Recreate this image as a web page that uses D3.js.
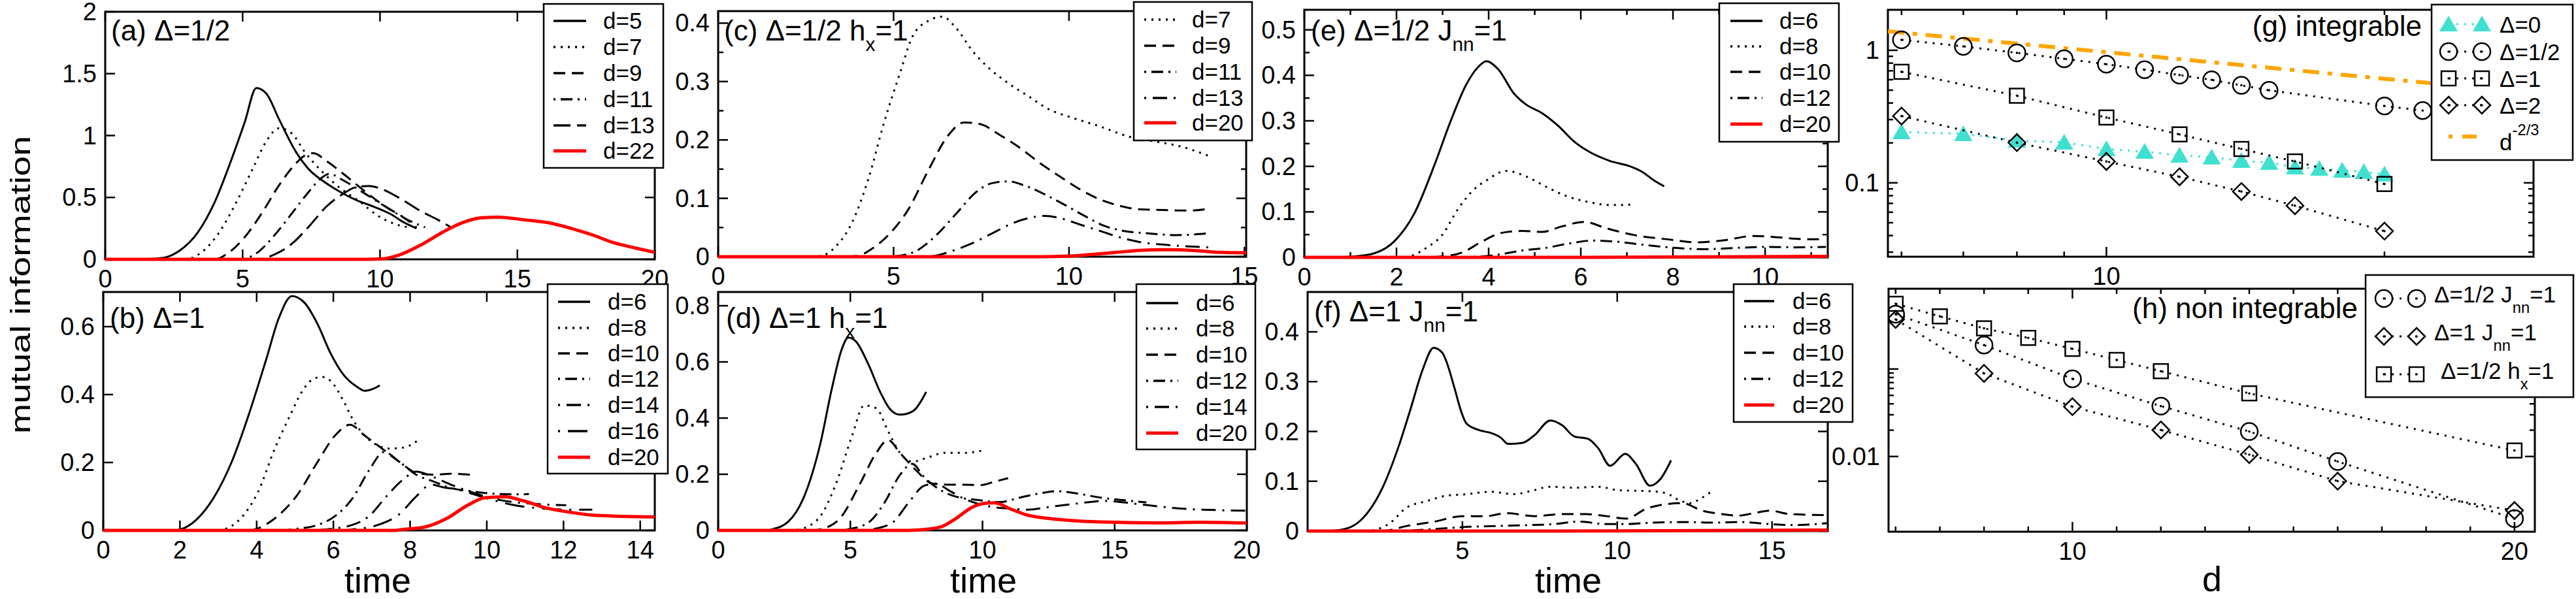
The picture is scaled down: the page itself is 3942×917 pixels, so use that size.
<!DOCTYPE html>
<html>
<head>
<meta charset="utf-8">
<script src="https://cdn.jsdelivr.net/npm/d3@7"></script>
<style>
  body { margin: 0; background: #fff; }
  svg { display: block; font-family: "Liberation Sans", Arial, Helvetica, sans-serif; }
</style>
</head>
<body>
<svg id="fig" width="3942" height="917"></svg>
<script>
// ---------- data: panel (a) Delta=1/2 ----------
const aLabels = ["d=5", "d=7", "d=9", "d=11", "d=13", "d=22"];
const aD5 = [[0,0],[1.5,0.002],[2.1,0.012],[2.73,0.074],[3.36,0.215],[3.98,0.46],[4.6,0.81],[5.08,1.11],[5.5,1.384],[5.86,1.34],[6.33,1.13],[6.95,0.865],[7.42,0.725],[7.9,0.637],[8.52,0.549],[9.14,0.478],[9.77,0.426],[10.4,0.364],[10.86,0.30],[11.33,0.25]];
const aD7 = [[0,0],[2.9,0],[3.5,0.056],[4.14,0.215],[4.77,0.46],[5.39,0.742],[5.86,0.953],[6.33,1.06],[6.8,1.015],[7.27,0.865],[7.9,0.707],[8.5,0.584],[9.3,0.46],[9.9,0.355],[10.55,0.285],[11.0,0.26]];
const aD9 = [[0,0],[4.0,0],[4.45,0.047],[5.08,0.18],[5.7,0.373],[6.33,0.60],[6.95,0.777],[7.27,0.84],[7.58,0.857],[8.05,0.795],[8.67,0.69],[9.45,0.549],[10.2,0.426],[10.86,0.338],[11.33,0.259]];
const aD11 = [[0,0],[4.9,0],[5.55,0.056],[6.17,0.197],[6.8,0.373],[7.42,0.549],[7.85,0.654],[8.15,0.69],[8.67,0.637],[9.45,0.531],[10.2,0.426],[11.0,0.32],[11.64,0.259]];
const aD13 = [[0,0],[5.55,0],[6.17,0.04],[6.8,0.127],[7.42,0.267],[8.05,0.426],[8.67,0.531],[9.14,0.584],[9.6,0.593],[10.08,0.566],[10.7,0.496],[11.48,0.39],[12.1,0.32],[12.58,0.259]];
const aD22 = [[0,0],[9.5,0],[10.08,0.004],[10.7,0.035],[11.48,0.115],[12.27,0.218],[13.05,0.30],[13.67,0.335],[14.3,0.341],[15.23,0.32],[16.17,0.294],[16.95,0.25],[17.73,0.197],[18.5,0.135],[19.3,0.091],[20,0.056]];
const aXTicks = [0, 5, 10, 15, 20];
const aYTicks = [0, 0.5, 1, 1.5, 2];

// ---------- panel (b) Delta=1 ----------
const bLabels = ["d=6", "d=8", "d=10", "d=12", "d=14", "d=16", "d=20"];
const bD6 = [[0,0],[1.8,0],[2.01,0.003],[2.46,0.035],[2.9,0.1],[3.35,0.202],[3.8,0.343],[4.25,0.504],[4.58,0.626],[4.92,0.69],[5.25,0.67],[5.59,0.607],[5.92,0.523],[6.26,0.459],[6.6,0.424],[6.82,0.411],[7.04,0.417],[7.21,0.427]];
const bD8 = [[0,0],[2.9,0],[3.13,0.003],[3.58,0.035],[4.03,0.112],[4.47,0.24],[4.92,0.35],[5.14,0.401],[5.48,0.446],[5.7,0.452],[5.93,0.44],[6.26,0.382],[6.49,0.33],[6.82,0.279],[7.16,0.25],[7.49,0.241],[7.83,0.244],[8.22,0.266]];
const bD10 = [[0,0],[3.8,0],[4.03,0.006],[4.47,0.035],[5.03,0.1],[5.59,0.202],[6.04,0.279],[6.43,0.311],[6.82,0.279],[7.27,0.241],[7.72,0.202],[8.16,0.17],[8.61,0.164],[9.06,0.167],[9.56,0.164]];
const bD12 = [[0,0],[4.7,0],[4.92,0.003],[5.59,0.016],[6.04,0.042],[6.49,0.093],[6.93,0.177],[7.32,0.231],[7.72,0.202],[8.16,0.164],[8.61,0.144],[9.06,0.125],[9.62,0.115],[10.18,0.108],[10.73,0.106],[11.1,0.107]];
const bD14 = [[0,0],[5.5,0],[5.81,0.003],[6.49,0.016],[6.93,0.042],[7.38,0.1],[7.83,0.151],[8.16,0.173],[8.61,0.157],[9.06,0.135],[9.62,0.112],[10.18,0.093],[10.73,0.083],[11.4,0.077],[12.07,0.074]];
const bD16 = [[0,0],[6.2,0],[6.49,0.003],[7.16,0.016],[7.72,0.048],[8.16,0.1],[8.55,0.135],[8.83,0.128],[9.28,0.119],[9.95,0.096],[10.73,0.074],[11.52,0.064],[12.19,0.061],[12.75,0.061]];
const bD20 = [[0,0],[7.6,0],[7.83,0.003],[8.39,0.01],[8.95,0.035],[9.5,0.074],[9.95,0.096],[10.46,0.099],[10.96,0.087],[11.52,0.067],[12.08,0.055],[12.75,0.045],[13.42,0.042],[14.4,0.04]];
const bXTicks = [0, 2, 4, 6, 8, 10, 12, 14];
const bYTicks = [0, 0.2, 0.4, 0.6];

// ---------- panel (c) Delta=1/2 hx=1 ----------
const cLabels = ["d=7", "d=9", "d=11", "d=13", "d=20"];
const cD7 = [[0,0],[2.6,0],[2.91,0.001],[3.36,0.018],[3.82,0.059],[4.28,0.133],[4.73,0.23],[5.19,0.316],[5.53,0.376],[5.99,0.404],[6.39,0.411],[6.79,0.391],[7.24,0.353],[7.7,0.324],[8.27,0.297],[8.84,0.275],[9.41,0.253],[10.09,0.238],[10.89,0.223],[11.69,0.206],[12.49,0.197],[13.17,0.189],[13.97,0.173]];
const cD9 = [[0,0],[3.6,0],[3.94,0.001],[4.39,0.014],[4.85,0.037],[5.42,0.081],[5.99,0.148],[6.56,0.208],[7.01,0.23],[7.47,0.227],[8.04,0.208],[8.61,0.186],[9.18,0.16],[9.75,0.137],[10.32,0.115],[10.89,0.098],[11.46,0.087],[12.03,0.081],[12.72,0.08],[13.4,0.079],[13.97,0.082]];
const cD11 = [[0,0],[4.7,0],[5.08,0.001],[5.65,0.01],[6.22,0.037],[6.79,0.074],[7.36,0.111],[7.81,0.126],[8.27,0.129],[8.73,0.122],[9.3,0.107],[9.87,0.089],[10.44,0.07],[11.0,0.053],[11.58,0.044],[12.26,0.04],[13.06,0.037],[13.97,0.04]];
const cD13 = [[0,0],[5.7,0],[6.1,0.001],[6.67,0.01],[7.24,0.023],[7.81,0.04],[8.38,0.057],[8.84,0.066],[9.3,0.07],[9.75,0.066],[10.32,0.055],[10.89,0.044],[11.46,0.033],[12.03,0.025],[12.83,0.02],[13.97,0.016]];
const cD20 = [[0,0],[9.18,0],[9.98,0.001],[10.66,0.004],[11.35,0.0075],[12.03,0.011],[12.83,0.012],[13.63,0.0104],[14.3,0.0075],[15.05,0.0067]];
const cXTicks = [0, 5, 10, 15];
const cYTicks = [0, 0.1, 0.2, 0.3, 0.4];
const cYMinor = [0.05, 0.15, 0.25, 0.35];

// ---------- panel (d) Delta=1 hx=1 ----------
const dLabels = ["d=6", "d=8", "d=10", "d=12", "d=14", "d=20"];
const dD6 = [[0,0],[1.8,0],[2.04,0.004],[2.65,0.031],[3.25,0.12],[3.86,0.307],[4.31,0.509],[4.69,0.649],[4.92,0.687],[5.22,0.672],[5.67,0.594],[6.13,0.493],[6.51,0.431],[6.88,0.412],[7.34,0.423],[7.87,0.493]];
const dD8 = [[0,0],[2.8,0],[3.1,0.004],[3.86,0.05],[4.46,0.167],[5.07,0.338],[5.52,0.445],[5.98,0.435],[6.43,0.353],[6.88,0.276],[7.34,0.245],[7.94,0.26],[8.55,0.276],[9.3,0.276],[9.98,0.284]];
const dD10 = [[0,0],[3.6,0],[3.86,0.004],[4.61,0.043],[5.37,0.167],[5.98,0.276],[6.43,0.322],[6.88,0.276],[7.49,0.214],[8.09,0.167],[8.7,0.163],[9.3,0.163],[9.91,0.161],[10.51,0.175],[10.97,0.186]];
const dD12 = [[0,0],[4.6,0],[4.92,0.004],[5.67,0.027],[6.28,0.097],[6.88,0.198],[7.34,0.237],[7.79,0.19],[8.4,0.144],[9.0,0.12],[9.76,0.109],[10.67,0.101],[11.42,0.117],[12.18,0.132],[12.78,0.14],[13.54,0.132],[14.45,0.117],[15.2,0.109],[16.2,0.1]];
const dD14 = [[0,0],[5.5,0],[5.82,0.004],[6.58,0.027],[7.19,0.097],[7.79,0.159],[8.25,0.167],[8.7,0.144],[9.3,0.113],[10.06,0.089],[10.97,0.078],[11.72,0.074],[12.63,0.085],[13.69,0.097],[14.6,0.105],[15.96,0.093],[17.47,0.078],[18.99,0.072],[20,0.07]];
const dD20 = [[0,0],[7.2,0],[7.49,0.001],[8.4,0.012],[9.0,0.043],[9.6,0.082],[10.14,0.097],[10.45,0.098],[11.12,0.074],[11.72,0.054],[12.48,0.043],[13.69,0.033],[15.05,0.029],[16.72,0.027],[18.23,0.029],[20,0.026]];
const dXTicks = [0, 5, 10, 15, 20];
const dYTicks = [0, 0.2, 0.4, 0.6, 0.8];

// ---------- panel (e) Delta=1/2 Jnn=1 ----------
const eLabels = ["d=6", "d=8", "d=10", "d=12", "d=20"];
const eD6 = [[0,0],[0.6,0],[1.08,0.002],[1.52,0.009],[1.95,0.035],[2.39,0.097],[2.82,0.202],[3.17,0.298],[3.51,0.379],[3.77,0.418],[3.95,0.431],[4.21,0.413],[4.55,0.36],[4.81,0.336],[5.16,0.317],[5.51,0.289],[5.85,0.255],[6.2,0.231],[6.63,0.212],[7.07,0.2],[7.33,0.188],[7.59,0.169],[7.81,0.156]];
const eD8 = [[0,0],[1.8,0],[2.21,0.001],[2.65,0.021],[2.99,0.049],[3.34,0.107],[3.69,0.15],[3.95,0.169],[4.38,0.19],[4.81,0.178],[5.25,0.155],[5.68,0.135],[6.2,0.121],[6.63,0.115],[7.16,0.116]];
const eD10 = [[0,0],[2.6,0],[2.99,0.002],[3.43,0.011],[3.86,0.035],[4.29,0.054],[4.73,0.058],[5.16,0.056],[5.59,0.068],[6.07,0.078],[6.55,0.064],[7.16,0.049],[7.85,0.04],[8.54,0.033],[9.06,0.037],[9.76,0.047],[10.28,0.044],[10.88,0.04],[11.19,0.04]];
const eD12 = [[0,0],[3.2,0],[3.69,0.001],[4.21,0.006],[4.73,0.015],[5.25,0.021],[5.77,0.031],[6.29,0.037],[6.72,0.035],[7.33,0.028],[8.02,0.021],[8.72,0.018],[9.41,0.021],[10.02,0.023],[10.62,0.022],[11.32,0.023]];
const eD20 = [[0,0],[6,0],[11.36,0.002]];
const eXTicks = [0, 2, 4, 6, 8, 10];
const eXMinor = [1, 3, 5, 7, 9, 11];
const eYTicks = [0, 0.1, 0.2, 0.3, 0.4, 0.5];
const eYMinor = [0.05, 0.15, 0.25, 0.35, 0.45];

// ---------- panel (f) Delta=1 Jnn=1 ----------
const fLabels = ["d=6", "d=8", "d=10", "d=12", "d=20"];
const fD6 = [[0,0],[0.5,0],[0.87,0.001],[1.39,0.008],[1.9,0.034],[2.42,0.087],[2.94,0.17],[3.32,0.244],[3.71,0.323],[4.07,0.368],[4.35,0.358],[4.48,0.341],[4.74,0.288],[4.94,0.244],[5.13,0.216],[5.52,0.203],[5.97,0.196],[6.23,0.188],[6.48,0.175],[6.94,0.177],[7.32,0.192],[7.84,0.222],[8.23,0.212],[8.61,0.19],[9.06,0.185],[9.39,0.166],[9.77,0.131],[10.26,0.155],[10.6,0.135],[11.06,0.091],[11.4,0.105],[11.74,0.142]];
const fD8 = [[0,0],[1.7,0],[2.03,0.001],[2.68,0.017],[3.19,0.047],[3.84,0.06],[4.48,0.071],[5.13,0.074],[5.9,0.079],[6.68,0.074],[7.19,0.08],[7.84,0.089],[8.61,0.087],[9.39,0.089],[10.03,0.082],[11.06,0.08],[11.58,0.076],[11.97,0.063],[12.35,0.056],[12.74,0.067],[13.06,0.08]];
const fD10 = [[0,0],[2.2,0],[2.55,0.001],[3.19,0.01],[4.1,0.019],[5.0,0.03],[5.77,0.03],[6.42,0.036],[7.32,0.03],[8.23,0.034],[9.0,0.034],[9.65,0.03],[10.29,0.025],[10.94,0.045],[11.58,0.054],[12.1,0.056],[12.74,0.041],[13.39,0.034],[13.9,0.031],[14.42,0.036],[14.94,0.041],[15.58,0.034],[16.8,0.032]];
const fD12 = [[0,0],[2.8,0],[3.19,0.001],[4.1,0.004],[5.0,0.008],[6.03,0.01],[7.19,0.012],[7.97,0.014],[8.74,0.019],[9.65,0.014],[10.16,0.014],[11.19,0.017],[12.23,0.018],[13.13,0.017],[14.03,0.018],[14.94,0.014],[15.71,0.012],[16.8,0.016]];
const fD20 = [[0,0],[8,0],[16.8,0.002]];
const fXTicks = [5, 10, 15];
const fYTicks = [0, 0.1, 0.2, 0.3, 0.4];

// ---------- panel (g) integrable ----------
const gLabels = ["\u0394=0", "\u0394=1/2", "\u0394=1", "\u0394=2"];
const gDelta0D = [6, 7, 8, 9, 10, 11, 12, 13, 14, 15, 16, 17, 18, 19, 20];
const gDelta0 = [0.242, 0.234, 0.209, 0.202, 0.180, 0.172, 0.161, 0.156, 0.147, 0.142, 0.131, 0.128, 0.124, 0.121, 0.116];
const gHalfD = [6, 7, 8, 9, 10, 11, 12, 13, 14, 15, 20, 22];
const gHalf = [1.199, 1.07, 0.956, 0.863, 0.785, 0.714, 0.650, 0.598, 0.544, 0.499, 0.380, 0.351];
const gOneD = [6, 8, 10, 12, 14, 16, 20];
const gOne = [0.688, 0.454, 0.311, 0.232, 0.180, 0.145, 0.098];
const gTwoD = [6, 8, 10, 12, 14, 16, 20];
const gTwo = [0.319, 0.201, 0.145, 0.111, 0.0860, 0.0672, 0.0432];
const gPowD = [5.8, 29];
const gPow = [1.391, 0.476];
const gXMajor = [10];
const gXMinor = [6, 7, 8, 9, 20];
const gYMajor = [0.1, 1];
const gYMinor = [0.03, 0.04, 0.05, 0.06, 0.07, 0.08, 0.09, 0.2, 0.3, 0.4, 0.5, 0.6, 0.7, 0.8, 0.9];

// ---------- panel (h) non integrable ----------
const hHalfJD = [6, 8, 10, 12, 14, 16, 20];
const hHalfJ = [0.424, 0.188, 0.0773, 0.0377, 0.0193, 0.00876, 0.00195];
const hOneJD = [6, 8, 10, 12, 14, 16, 20];
const hOneJ = [0.369, 0.0891, 0.0371, 0.0201, 0.0105, 0.00523, 0.00241];
const hHalfHD = [6, 7, 8, 9, 10, 11, 12, 14, 20];
const hHalfH = [0.557, 0.400, 0.292, 0.227, 0.170, 0.127, 0.0945, 0.0527, 0.0117];
const hXMajor = [10, 20];
const hXMinor = [6, 7, 8, 9, 11, 12, 13, 14, 15, 16, 17, 18, 19];
const hYMajor = [0.01, 0.1];
const hYMinor = [0.02, 0.03, 0.04, 0.05, 0.06, 0.07, 0.08, 0.09];
const hYLabels = [0.01];

// ---------- drawing ----------
const svg = d3.select("#fig");
const fmt = d3.format("~g");
const RED = "#ff0000", TURQ = "#40e0d0", ORANGE = "#ffa500";
const DASH = {
  solid: null, red: null,
  dot: "3,8",
  dash: "18,10",
  longdash: "26,10",
  dashdot: "3,8,18,8",
  dashdot2: "3,10,22,10",
  dashdot3: "3,12,30,12"
};

function richText(g, x, y, parts, size, anchor) {
  let t = g.append("text")
      .attr("x", x).attr("y", y)
      .attr("font-size", size)
      .attr("text-anchor", anchor || "start");
  let cur = 0;
  parts.forEach(p => {
    let sh = p.shift || 0;
    let s = t.append("tspan").attr("dy", sh - cur).text(p.t);
    if (p.small) s.attr("font-size", size * 0.68);
    cur = sh;
  });
  return t;
}

function axesFrame(g, x, y, o) {
  let [L, R] = x.range(), [B, T] = y.range();
  g.append("rect")
      .attr("x", L).attr("y", T)
      .attr("width", R - L).attr("height", B - T)
      .attr("fill", "none").attr("stroke", "#000").attr("stroke-width", 3);

  let xt = [];
  (o.xMajor || []).forEach(v => xt.push({v: v, len: 15}));
  (o.xMinor || []).forEach(v => xt.push({v: v, len: 8}));
  let yt = [];
  (o.yMajor || []).forEach(v => yt.push({v: v, len: 15}));
  (o.yMinor || []).forEach(v => yt.push({v: v, len: 8}));

  g.selectAll(".xtb").data(xt).enter().append("line")
      .attr("x1", d => x(d.v)).attr("x2", d => x(d.v))
      .attr("y1", B).attr("y2", d => B - d.len)
      .attr("stroke", "#000").attr("stroke-width", 2.5);
  g.selectAll(".xtt").data(xt).enter().append("line")
      .attr("x1", d => x(d.v)).attr("x2", d => x(d.v))
      .attr("y1", T).attr("y2", d => T + d.len)
      .attr("stroke", "#000").attr("stroke-width", 2.5);
  g.selectAll(".ytl").data(yt).enter().append("line")
      .attr("x1", L).attr("x2", d => L + d.len)
      .attr("y1", d => y(d.v)).attr("y2", d => y(d.v))
      .attr("stroke", "#000").attr("stroke-width", 2.5);
  g.selectAll(".ytr").data(yt).enter().append("line")
      .attr("x1", R).attr("x2", d => R - d.len)
      .attr("y1", d => y(d.v)).attr("y2", d => y(d.v))
      .attr("stroke", "#000").attr("stroke-width", 2.5);

  g.selectAll(".xl").data(o.xLabels || []).enter().append("text")
      .attr("x", d => x(d)).attr("y", B + 43)
      .attr("text-anchor", "middle").attr("font-size", 38)
      .text(d => fmt(d));
  g.selectAll(".yl").data(o.yLabels || []).enter().append("text")
      .attr("x", L - 13).attr("y", d => y(d) + 13)
      .attr("text-anchor", "end").attr("font-size", 38)
      .text(d => fmt(d));
}

let clipCount = 0;
function clipFor(x, y) {
  let [L, R] = x.range(), [B, T] = y.range();
  let id = "clip" + (clipCount++);
  svg.append("clipPath").attr("id", id).append("rect")
      .attr("x", L).attr("y", T - 3).attr("width", R - L).attr("height", B - T + 6);
  return id;
}

function linePanel(p) {
  let g = svg.append("g");
  let x = d3.scaleLinear().domain(p.xDom).range([p.box.L, p.box.R]);
  let y = d3.scaleLinear().domain(p.yDom).range([p.box.B, p.box.T]);
  axesFrame(g, x, y, p.axes);

  let line = d3.line()
      .x(d => x(d[0])).y(d => y(d[1]))
      .curve(d3.curveMonotoneX);
  let cid = clipFor(x, y);
  g.append("g").attr("clip-path", "url(#" + cid + ")")
      .selectAll("path").data(p.series).enter().append("path")
      .attr("d", line)
      .attr("fill", "none")
      .attr("stroke", (d, i) => p.styles[i] === "red" ? RED : "#000")
      .attr("stroke-width", (d, i) => p.styles[i] === "red" ? 5 : 3)
      .attr("stroke-dasharray", (d, i) => DASH[p.styles[i]]);

  richText(g, p.title.x, p.title.y, p.title.parts, 44);

  // legend
  let lg = p.legend;
  g.append("rect")
      .attr("x", lg.box[0]).attr("y", lg.box[1])
      .attr("width", lg.box[2] - lg.box[0]).attr("height", lg.box[3] - lg.box[1])
      .attr("fill", "#fff").attr("stroke", "#000").attr("stroke-width", 2.5);
  let rows = g.selectAll(".lrow").data(p.labels).enter().append("g");
  rows.append("line")
      .attr("x1", lg.sx[0]).attr("x2", lg.sx[1])
      .attr("y1", (d, i) => lg.rows[i]).attr("y2", (d, i) => lg.rows[i])
      .attr("stroke", (d, i) => p.styles[i] === "red" ? RED : "#000")
      .attr("stroke-width", (d, i) => p.styles[i] === "red" ? 5 : 3.5)
      .attr("stroke-dasharray", (d, i) => DASH[p.styles[i]]);
  rows.append("text")
      .attr("x", lg.tx).attr("y", (d, i) => lg.rows[i] + 12)
      .attr("font-size", 35)
      .text(d => d);
}

linePanel({
  box: {L: 161, R: 1002, T: 18, B: 397}, xDom: [0, 20], yDom: [0, 2],
  axes: {xMajor: aXTicks, xLabels: aXTicks, yMajor: aYTicks, yLabels: aYTicks},
  series: [aD5, aD7, aD9, aD11, aD13, aD22], labels: aLabels,
  styles: ["solid", "dot", "dash", "dashdot", "longdash", "red"],
  title: {x: 170, y: 62, parts: [{t: "(a) \u0394=1/2"}]},
  legend: {box: [832, 6, 1015, 257], sx: [847, 897], tx: 923, rows: [32, 72, 112, 152, 192, 231]}
});

linePanel({
  box: {L: 158, R: 1002, T: 447, B: 812}, xDom: [0, 14.38], yDom: [0, 0.702],
  axes: {xMajor: bXTicks, xLabels: bXTicks, yMajor: bYTicks, yLabels: bYTicks},
  series: [bD6, bD8, bD10, bD12, bD14, bD16, bD20], labels: bLabels,
  styles: ["solid", "dot", "dash", "dashdot", "dashdot2", "dashdot3", "red"],
  title: {x: 168, y: 502, parts: [{t: "(b) \u0394=1"}]},
  legend: {box: [838, 435, 1022, 725], sx: [854, 903], tx: 930, rows: [462, 502, 541, 580, 620, 660, 700]}
});

linePanel({
  box: {L: 1099, R: 1907, T: 17, B: 393}, xDom: [0, 15.05], yDom: [0, 0.4206],
  axes: {xMajor: cXTicks, xLabels: cXTicks, yMajor: cYTicks, yMinor: cYMinor, yLabels: cYTicks},
  series: [cD7, cD9, cD11, cD13, cD20], labels: cLabels,
  styles: ["dot", "dash", "dashdot", "dashdot2", "red"],
  title: {x: 1108, y: 62, parts: [{t: "(c) \u0394=1/2 h"}, {t: "x", shift: 16, small: true}, {t: "=1", shift: 0}]},
  legend: {box: [1735, 3, 1916, 215], sx: [1751, 1800], tx: 1824, rows: [30, 70, 110, 150, 188]}
});

linePanel({
  box: {L: 1099, R: 1908, T: 447, B: 812}, xDom: [0, 20], yDom: [0, 0.849],
  axes: {xMajor: dXTicks, xLabels: dXTicks, yMajor: dYTicks, yLabels: dYTicks},
  series: [dD6, dD8, dD10, dD12, dD14, dD20], labels: dLabels,
  styles: ["solid", "dot", "dash", "dashdot", "dashdot2", "red"],
  title: {x: 1111, y: 502, parts: [{t: "(d) \u0394=1 h"}, {t: "x", shift: 16, small: true}, {t: "=1", shift: 0}]},
  legend: {box: [1739, 435, 1921, 688], sx: [1754, 1803], tx: 1830, rows: [464, 503, 543, 583, 623, 663]}
});

linePanel({
  box: {L: 1996, R: 2797, T: 15, B: 394}, xDom: [0, 11.36], yDom: [0, 0.544],
  axes: {xMajor: eXTicks, xMinor: eXMinor, xLabels: eXTicks, yMajor: eYTicks, yMinor: eYMinor, yLabels: eYTicks},
  series: [eD6, eD8, eD10, eD12, eD20], labels: eLabels,
  styles: ["solid", "dot", "dash", "dashdot", "red"],
  title: {x: 2006, y: 62, parts: [{t: "(e) \u0394=1/2 J"}, {t: "nn", shift: 16, small: true}, {t: "=1", shift: 0}]},
  legend: {box: [2631, 5, 2814, 217], sx: [2648, 2697], tx: 2723, rows: [32, 71, 110, 150, 190]}
});

linePanel({
  box: {L: 2001, R: 2797, T: 447, B: 813}, xDom: [0, 16.8], yDom: [0, 0.48],
  axes: {xMajor: fXTicks, xLabels: fXTicks, yMajor: fYTicks, yLabels: fYTicks},
  series: [fD6, fD8, fD10, fD12, fD20], labels: fLabels,
  styles: ["solid", "dot", "dash", "dashdot", "red"],
  title: {x: 2011, y: 492, parts: [{t: "(f) \u0394=1 J"}, {t: "nn", shift: 16, small: true}, {t: "=1", shift: 0}]},
  legend: {box: [2653, 435, 2835, 646], sx: [2669, 2715], tx: 2743, rows: [461, 500, 540, 580, 620]}
});

// ---------- markers for (g) and (h) ----------
function marker(g, type, cx, cy) {
  if (type === "tri") {
    g.append("path")
        .attr("d", `M${cx},${cy - 13}L${cx + 14},${cy + 11}L${cx - 14},${cy + 11}Z`)
        .attr("fill", TURQ);
    return;
  }
  if (type === "circle") {
    g.append("circle").attr("cx", cx).attr("cy", cy).attr("r", 13);
  } else if (type === "square") {
    g.append("rect").attr("x", cx - 11).attr("y", cy - 11).attr("width", 22).attr("height", 22);
  } else {
    g.append("path").attr("d", `M${cx},${cy - 13}L${cx + 13},${cy}L${cx},${cy + 13}L${cx - 13},${cy}Z`);
  }
  g.selectAll("circle,rect,path").filter(function () { return !this.getAttribute("stroke"); })
      .attr("fill", "none").attr("stroke", "#000").attr("stroke-width", 2.5);
  g.append("circle").attr("cx", cx).attr("cy", cy).attr("r", 1.8).attr("fill", "#000").attr("stroke", "none");
}

function markerSeries(g, x, y, ds, vs, type, color) {
  let pts = ds.map((d, i) => [x(d), y(vs[i])]);
  g.append("path")
      .attr("d", d3.line()(pts))
      .attr("fill", "none").attr("stroke", color)
      .attr("stroke-width", 3).attr("stroke-dasharray", "3,9");
  let mg = g.append("g");
  pts.forEach(p => marker(mg.append("g"), type, p[0], p[1]));
}

// ---------- panel (g) ----------
{
  let g = svg.append("g");
  let x = d3.scaleLog().domain([5.8, 29]).range([2889, 3877]);
  let y = d3.scaleLog().domain([0.0277, 2.02]).range([393, 15]);
  axesFrame(g, x, y, {xMajor: gXMajor, xMinor: gXMinor, xLabels: gXMajor,
                      yMajor: gYMajor, yMinor: gYMinor, yLabels: gYMajor});
  let cid = clipFor(x, y);
  let pg = g.append("g").attr("clip-path", "url(#" + cid + ")");
  pg.append("path")
      .attr("d", d3.line()(gPowD.map((d, i) => [x(d), y(gPow[i])])))
      .attr("fill", "none").attr("stroke", ORANGE)
      .attr("stroke-width", 6).attr("stroke-dasharray", "25,13,7,13");
  markerSeries(pg, x, y, gDelta0D, gDelta0, "tri", TURQ);
  markerSeries(pg, x, y, gHalfD, gHalf, "circle", "#000");
  markerSeries(pg, x, y, gOneD, gOne, "square", "#000");
  markerSeries(pg, x, y, gTwoD, gTwo, "diamond", "#000");

  richText(g, 3706, 55, [{t: "(g) integrable"}], 44, "end");

  g.append("rect").attr("x", 3721).attr("y", 7).attr("width", 216).attr("height", 238)
      .attr("fill", "#fff").attr("stroke", "#000").attr("stroke-width", 2.5);
  let rowsY = [37, 79, 120, 161];
  let types = ["tri", "circle", "square", "diamond"];
  gLabels.forEach((lab, i) => {
    let col = i === 0 ? TURQ : "#000";
    g.append("line").attr("x1", 3747).attr("x2", 3798)
        .attr("y1", rowsY[i]).attr("y2", rowsY[i])
        .attr("stroke", col).attr("stroke-width", 3).attr("stroke-dasharray", "3,9");
    marker(g.append("g"), types[i], 3747, rowsY[i]);
    marker(g.append("g"), types[i], 3798, rowsY[i]);
    g.append("text").attr("x", 3825).attr("y", rowsY[i] + 13).attr("font-size", 35).text(lab);
  });
  g.append("line").attr("x1", 3747).attr("x2", 3790).attr("y1", 209).attr("y2", 209)
      .attr("stroke", ORANGE).attr("stroke-width", 6).attr("stroke-dasharray", "6,15,25,20");
  richText(g, 3825, 230, [{t: "d"}, {t: "-2/3", shift: -23, small: true}], 35);
}

// ---------- panel (h) ----------
{
  let g = svg.append("g");
  let x = d3.scaleLinear().domain([5.84, 20.46]).range([2890, 3879]);
  let y = d3.scaleLog().domain([0.00138, 0.828]).range([814, 442]);
  axesFrame(g, x, y, {xMajor: hXMajor, xMinor: hXMinor, xLabels: hXMajor,
                      yMajor: hYMajor, yMinor: hYMinor, yLabels: hYLabels});
  let cid = clipFor(x, y);
  let pg = g.append("g").attr("clip-path", "url(#" + cid + ")");
  markerSeries(pg, x, y, hHalfJD, hHalfJ, "circle", "#000");
  markerSeries(pg, x, y, hOneJD, hOneJ, "diamond", "#000");
  markerSeries(pg, x, y, hHalfHD, hHalfH, "square", "#000");

  richText(g, 3608, 487, [{t: "(h) non integrable"}], 44, "end");

  g.append("rect").attr("x", 3620).attr("y", 421).attr("width", 318).attr("height", 187)
      .attr("fill", "#fff").attr("stroke", "#000").attr("stroke-width", 2.5);
  let rowsY = [457, 515, 573];
  let base = [463, 521, 580];
  let types = ["circle", "diamond", "square"];
  let texts = [
    {x: 3725, parts: [{t: "\u0394=1/2 J"}, {t: "nn", shift: 16, small: true}, {t: "=1", shift: 0}]},
    {x: 3725, parts: [{t: "\u0394=1 J"}, {t: "nn", shift: 16, small: true}, {t: "=1", shift: 0}]},
    {x: 3735, parts: [{t: "\u0394=1/2 h"}, {t: "x", shift: 16, small: true}, {t: "=1", shift: 0}]}
  ];
  types.forEach((tp, i) => {
    g.append("line").attr("x1", 3648).attr("x2", 3698)
        .attr("y1", rowsY[i]).attr("y2", rowsY[i])
        .attr("stroke", "#000").attr("stroke-width", 3).attr("stroke-dasharray", "3,9");
    marker(g.append("g"), tp, 3648, rowsY[i]);
    marker(g.append("g"), tp, 3698, rowsY[i]);
    richText(g, texts[i].x, base[i], texts[i].parts, 35);
  });
}

// ---------- axis titles ----------
svg.append("text")
    .attr("transform", "translate(46,436) rotate(-90)")
    .attr("text-anchor", "middle")
    .attr("font-size", 42)
    .attr("textLength", 456).attr("lengthAdjust", "spacingAndGlyphs")
    .text("mutual information");

[578, 1505, 2400].forEach(cx => {
  svg.append("text").attr("x", cx).attr("y", 907)
      .attr("text-anchor", "middle").attr("font-size", 54).text("time");
});
svg.append("text").attr("x", 3385).attr("y", 905)
    .attr("text-anchor", "middle").attr("font-size", 54).text("d");
</script>
</body>
</html>
